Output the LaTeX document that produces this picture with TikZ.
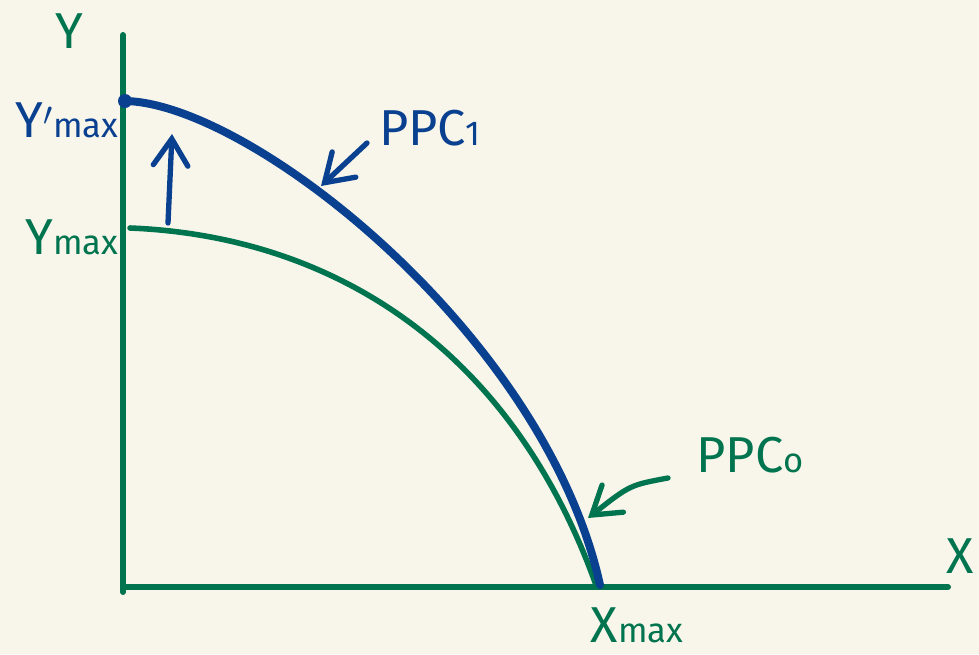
\documentclass[tikz,border=0pt]{standalone}
\usepackage{fontspec}
\setmainfont{Fira Sans}
\usetikzlibrary{arrows.meta}
\definecolor{paper}{HTML}{F8F6EA}
\definecolor{ppcgreen}{HTML}{00734F}
\definecolor{ppcblue}{HTML}{0A4090}
\tikzset{
    axis_line/.style={ppcgreen, line width=4.5pt, line cap=round},
    curve_old/.style={ppcgreen, line width=4.2pt, line cap=round},
    curve_new/.style={ppcblue, line width=6pt, line cap=round, line join=round},
    flecha_azul/.style={ppcblue, line width=4pt, line cap=round, -{Straight Barb[length=20pt, width=26pt, line cap=round]}},
    flecha_verde/.style={ppcgreen, line width=4pt, line cap=round, -{Straight Barb[length=20pt, width=26pt, line cap=round]}},
    etiqueta/.style={inner sep=0pt, font=\fontsize{38}{38}\selectfont}
}
\newcommand{\pequeno}[1]{{\fontsize{26}{26}\selectfont #1}}

\begin{document}
\begin{tikzpicture}[x=0.02646cm, y=-0.02646cm]

    % fondo
    \fill[paper] (0,0) rectangle (979,654);
    \useasboundingbox (0,0) rectangle (979,654);

    % ejes
    \coordinate (origen) at (123,587);
    \coordinate (ytop) at (123,35);
    \coordinate (ybot) at (123,592);
    \coordinate (xend) at (948,587);
    \draw[axis_line] (ybot) -- (ytop);
    \draw[axis_line] (origen) -- (xend);

    % PPC0
    \coordinate (ppc0_ini) at (130,228);
    \coordinate (ppc0_fin) at (596,585);
    \draw[curve_old] (ppc0_ini) .. controls (330,236) and (510,345) .. (ppc0_fin);

    % PPC1
    \coordinate (ppc1_ini) at (125,101);
    \coordinate (ppc1_fin) at (600,585);
    \draw[curve_new] (ppc1_ini) .. controls (250,103) and (545,335) .. (ppc1_fin);
    \fill[ppcblue] (ppc1_ini) circle (7);

    % etiquetas
    \node[etiqueta, ppcgreen] (lab_y) at (69,31) {Y};
    \node[etiqueta, ppcgreen] (lab_x) at (960,556) {X};
    \node[etiqueta, ppcblue] (lab_ymax1) at (67,120) {Y$'$\pequeno{max}};
    \node[etiqueta, ppcgreen] (lab_ymax0) at (72,237) {Y\pequeno{max}};
    \node[etiqueta, ppcgreen] (lab_xmax) at (637,625) {X\pequeno{max}};
    \node[etiqueta, ppcblue] (lab_ppc1) at (430,128) {PPC\pequeno{1}};
    \node[etiqueta, ppcgreen] (lab_ppc0) at (750,455) {PPC\pequeno{o}};

    % flechas
    \coordinate (sube_ini) at (168,223);
    \coordinate (sube_fin) at (172,134);
    \draw[flecha_azul] (sube_ini) -- (sube_fin);

    \coordinate (ppc1_cola) at (367,143);
    \coordinate (ppc1_punta) at (321,186);
    \draw[flecha_azul] (ppc1_cola) -- (ppc1_punta);

    \coordinate (ppc0_cola) at (668,478);
    \coordinate (ppc0_punta) at (588,518);
    \draw[flecha_verde] (ppc0_cola) .. controls (630,485) .. (ppc0_punta);

\end{tikzpicture}
\end{document}
